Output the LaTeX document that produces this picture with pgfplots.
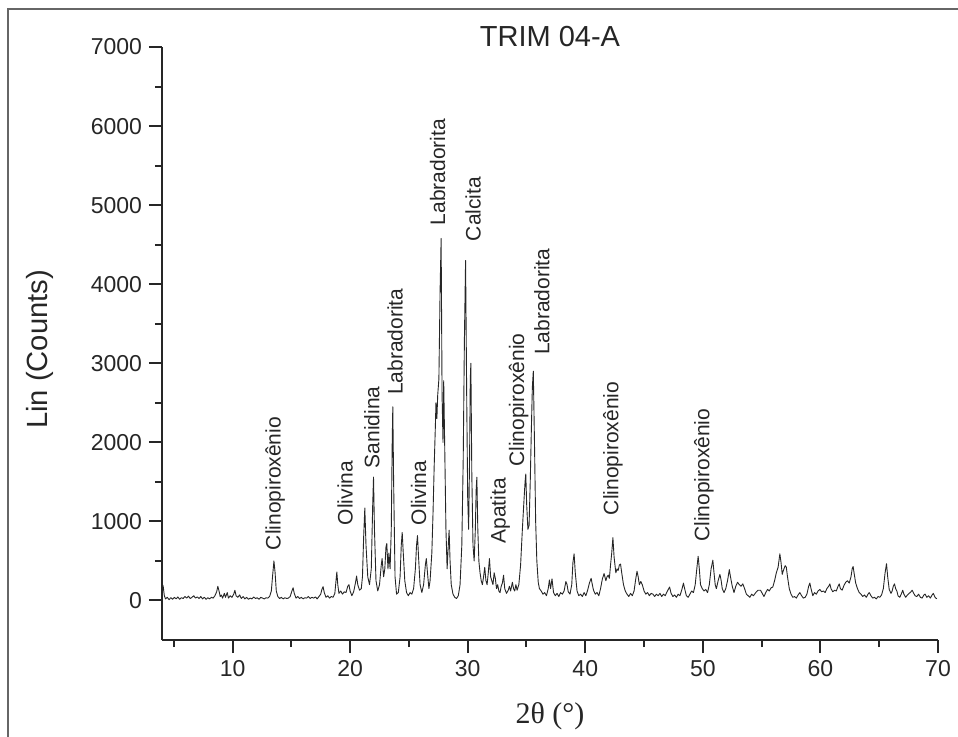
\documentclass[border=0pt]{standalone}
\usepackage{fontspec}
\setmainfont{Liberation Sans}
\newfontfamily\seriffont{Liberation Serif}
\usepackage{pgfplots}
\pgfplotsset{compat=1.18}
\usepackage{pgfplotstable}

\pgfplotstableread{
x y
4.00 150
4.05 200
4.10 180
4.20 60
4.30 20
4.45 40
4.60 10
4.75 35
4.90 15
5.05 40
5.20 20
5.35 45
5.50 15
5.65 35
5.80 25
5.95 50
6.10 30
6.25 55
6.40 25
6.55 40
6.70 60
6.85 30
7.00 45
7.15 25
7.30 50
7.45 20
7.60 40
7.75 15
7.90 35
8.05 20
8.20 40
8.35 30
8.50 60
8.65 110
8.75 180
8.85 120
8.95 50
9.05 70
9.15 30
9.30 90
9.40 40
9.55 100
9.65 30
9.80 60
9.95 40
10.10 80
10.20 130
10.30 60
10.45 40
10.60 70
10.75 25
10.90 50
11.05 20
11.20 40
11.35 15
11.50 30
11.65 20
11.80 45
11.95 25
12.10 35
12.25 15
12.40 40
12.55 30
12.70 20
12.85 35
13.00 30
13.15 50
13.30 120
13.40 300
13.52 500
13.62 350
13.72 120
13.85 50
14.00 25
14.15 40
14.30 20
14.45 35
14.60 25
14.75 30
14.90 50
15.05 120
15.15 160
15.25 90
15.40 30
15.55 50
15.70 25
15.85 40
16.00 20
16.15 35
16.30 30
16.45 50
16.60 25
16.75 40
16.90 30
17.05 45
17.20 20
17.35 50
17.50 80
17.60 140
17.70 175
17.80 100
17.95 40
18.10 60
18.25 30
18.40 50
18.55 40
18.70 90
18.80 250
18.87 360
18.95 200
19.05 90
19.20 120
19.35 80
19.50 110
19.65 100
19.80 180
19.90 200
20.00 120
20.15 60
20.30 110
20.45 220
20.55 310
20.65 200
20.80 130
20.95 150
21.05 300
21.15 800
21.25 1170
21.35 700
21.50 300
21.65 200
21.80 400
21.92 1200
21.99 1560
22.07 900
22.20 250
22.35 120
22.50 200
22.65 450
22.72 530
22.85 300
22.95 400
23.05 680
23.12 720
23.22 400
23.30 600
23.40 400
23.50 900
23.58 2000
23.63 2450
23.70 1500
23.82 300
23.95 80
24.10 100
24.25 300
24.35 700
24.43 860
24.52 600
24.65 250
24.80 100
24.95 60
25.10 100
25.25 80
25.40 150
25.55 400
25.65 700
25.73 820
25.82 550
25.95 200
26.10 100
26.25 200
26.40 450
26.48 530
26.58 350
26.70 150
26.80 250
26.95 600
27.05 1100
27.15 1700
27.25 2200
27.30 2500
27.38 2300
27.45 2600
27.55 2800
27.65 3900
27.74 4580
27.82 2600
27.90 2000
27.96 2780
28.05 1900
28.15 900
28.25 400
28.35 700
28.42 890
28.50 500
28.60 200
28.75 80
28.90 40
29.05 25
29.20 60
29.35 200
29.50 700
29.62 1800
29.72 3300
29.82 4300
29.92 2500
30.00 1300
30.08 900
30.16 1800
30.22 2800
30.27 3000
30.35 1600
30.45 700
30.55 500
30.65 900
30.72 1400
30.78 1560
30.86 900
30.95 500
31.05 350
31.15 250
31.25 200
31.35 300
31.45 420
31.55 250
31.65 200
31.75 350
31.85 530
31.95 300
32.05 250
32.15 200
32.25 350
32.35 280
32.45 150
32.55 200
32.65 120
32.75 100
32.85 180
32.95 220
33.05 320
33.15 150
33.30 90
33.45 130
33.55 180
33.65 120
33.80 230
33.90 150
34.00 120
34.10 200
34.20 130
34.35 200
34.50 450
34.65 900
34.80 1300
34.88 1500
34.94 1600
35.02 1200
35.12 900
35.22 950
35.32 1500
35.42 2200
35.50 2700
35.58 2900
35.68 2000
35.78 1000
35.88 500
36.00 230
36.10 150
36.25 120
36.40 80
36.55 100
36.70 60
36.85 150
36.95 260
37.05 150
37.17 275
37.30 100
37.45 60
37.60 90
37.75 50
37.90 100
38.05 80
38.20 120
38.35 240
38.45 200
38.55 110
38.70 80
38.85 200
38.95 480
39.05 590
39.15 350
39.30 120
39.45 60
39.60 80
39.75 50
39.90 100
40.05 60
40.20 130
40.35 220
40.50 280
40.60 200
40.70 130
40.85 80
41.00 100
41.15 60
41.30 150
41.45 270
41.60 340
41.75 250
41.85 300
41.95 320
42.05 280
42.15 450
42.25 600
42.35 795
42.45 550
42.60 350
42.70 400
42.80 380
42.90 450
43.00 460
43.10 350
43.25 200
43.40 120
43.55 80
43.70 50
43.85 90
44.00 60
44.15 120
44.30 280
44.40 370
44.50 300
44.60 200
44.72 240
44.85 200
45.00 120
45.15 80
45.30 100
45.45 60
45.60 90
45.75 80
45.90 50
46.05 80
46.20 60
46.35 90
46.50 50
46.65 80
46.80 60
46.95 110
47.10 150
47.17 170
47.30 90
47.45 50
47.60 70
47.75 40
47.90 80
48.05 60
48.20 130
48.35 220
48.45 150
48.60 60
48.75 40
48.90 80
49.05 120
49.20 100
49.35 200
49.50 420
49.60 560
49.70 400
49.80 200
49.95 150
50.10 120
50.25 140
50.40 100
50.55 200
50.70 400
50.85 510
50.95 350
51.05 200
51.15 150
51.30 250
51.45 330
51.55 260
51.65 150
51.80 100
51.95 150
52.10 250
52.25 390
52.35 300
52.50 180
52.65 100
52.80 180
52.95 230
53.10 200
53.25 180
53.40 210
53.55 150
53.70 80
53.85 60
54.00 40
54.15 80
54.30 60
54.50 100
54.70 130
54.90 130
55.05 90
55.20 50
55.35 100
55.50 140
55.65 120
55.80 160
55.95 170
56.10 250
56.25 350
56.40 420
56.55 590
56.65 480
56.75 330
56.85 380
57.00 440
57.10 420
57.20 300
57.35 150
57.50 80
57.65 40
57.80 50
57.95 30
58.10 70
58.25 100
58.40 60
58.55 30
58.70 40
58.85 80
59.00 180
59.10 220
59.20 150
59.35 60
59.50 100
59.65 80
59.80 120
59.95 140
60.10 110
60.25 120
60.40 100
60.55 150
60.70 180
60.80 210
60.90 150
61.05 110
61.20 130
61.35 120
61.50 180
61.60 210
61.70 150
61.85 130
62.00 190
62.15 230
62.30 250
62.45 220
62.60 300
62.70 400
62.78 430
62.88 330
63.00 220
63.15 150
63.30 100
63.45 80
63.60 50
63.75 70
63.90 40
64.05 80
64.15 100
64.30 60
64.45 30
64.60 40
64.75 20
64.90 50
65.05 40
65.20 70
65.35 150
65.50 350
65.62 465
65.72 300
65.85 140
66.00 90
66.10 120
66.20 180
66.30 210
66.40 150
66.50 120
66.60 60
66.75 40
66.90 90
67.00 130
67.10 80
67.25 40
67.40 70
67.55 90
67.70 110
67.80 130
67.90 100
68.05 60
68.20 50
68.35 80
68.50 40
68.65 30
68.80 70
68.90 80
69.05 40
69.20 60
69.35 30
69.50 70
69.60 90
69.75 40
69.90 20
}\xrd

\newcommand{\labfont}{\fontsize{10.5}{12}\selectfont}
\newcommand{\tickfont}{\fontsize{11.5}{13}\selectfont}

\begin{document}
\begin{tikzpicture}
\useasboundingbox (-81pt,-48pt) rectangle (398pt,320pt);
\draw[line width=0.7pt, black!60] (-77pt,-60pt) -- (-77pt,315.5pt) -- (410pt,315.5pt);
\begin{axis}[
  scale only axis, width=388pt, height=296.5pt,
  xmin=4, xmax=70, ymin=-500, ymax=7000,
  clip=false,
  axis x line=bottom, axis y line=left,
  axis line style={-, line width=1pt, black!85},
  xtick={10,20,30,40,50,60,70},
  xticklabels={10,20,30,40,50,60,70},
  ytick={0,1000,2000,3000,4000,5000,6000,7000},
  yticklabels={0,1000,2000,3000,4000,5000,6000,7000},
  minor xtick={5,15,...,65}, minor ytick={500,1500,...,6500},
  tick align=outside, major tick length=6.5pt, minor tick length=3.5pt,
  every tick/.style={line width=1pt, black!85},
  every tick label/.append style={font=\tickfont, text=black!85},
  xlabel={\seriffont 2θ (°)},
  xlabel style={at={(axis description cs:0.5,-0.128)}, anchor=center, font=\fontsize{15}{17}\selectfont, text=black!85},
  ylabel={Lin (Counts)},
  ylabel style={at={(axis description cs:-0.157,0.49)}, anchor=center, font=\fontsize{14.6}{17}\selectfont, text=black!85},
]
\addplot[black!85, line width=0.45pt, line join=round] table[x=x,y=y]{\xrd};
\node[anchor=base, font=\fontsize{14.5}{16}\selectfont, text=black!85, yshift=0.5pt] at (axis description cs:0.5,1) {TRIM 04-A};
\begin{scope}[every node/.style={rotate=90, anchor=west, inner sep=0pt, font=\labfont, text=black!85}]
\node at (axis cs:13.62,633) {Clinopiroxênio};
\node at (axis cs:19.57,949) {Olivina};
\node at (axis cs:21.85,1667) {Sanidina};
\node at (axis cs:23.83,2595) {Labradorita};
\node at (axis cs:25.82,949) {Olivina};
\node at (axis cs:27.45,4740) {Labradorita};
\node at (axis cs:30.47,4540) {Calcita};
\node at (axis cs:32.77,717) {Apatita};
\node at (axis cs:34.33,1688) {Clinopiroxênio};
\node at (axis cs:36.3,3100) {Labradorita};
\node at (axis cs:42.34,1076) {Clinopiroxênio};
\node at (axis cs:50.1,738) {Clinopiroxênio};
\end{scope}
\end{axis}
\end{tikzpicture}
\end{document}
